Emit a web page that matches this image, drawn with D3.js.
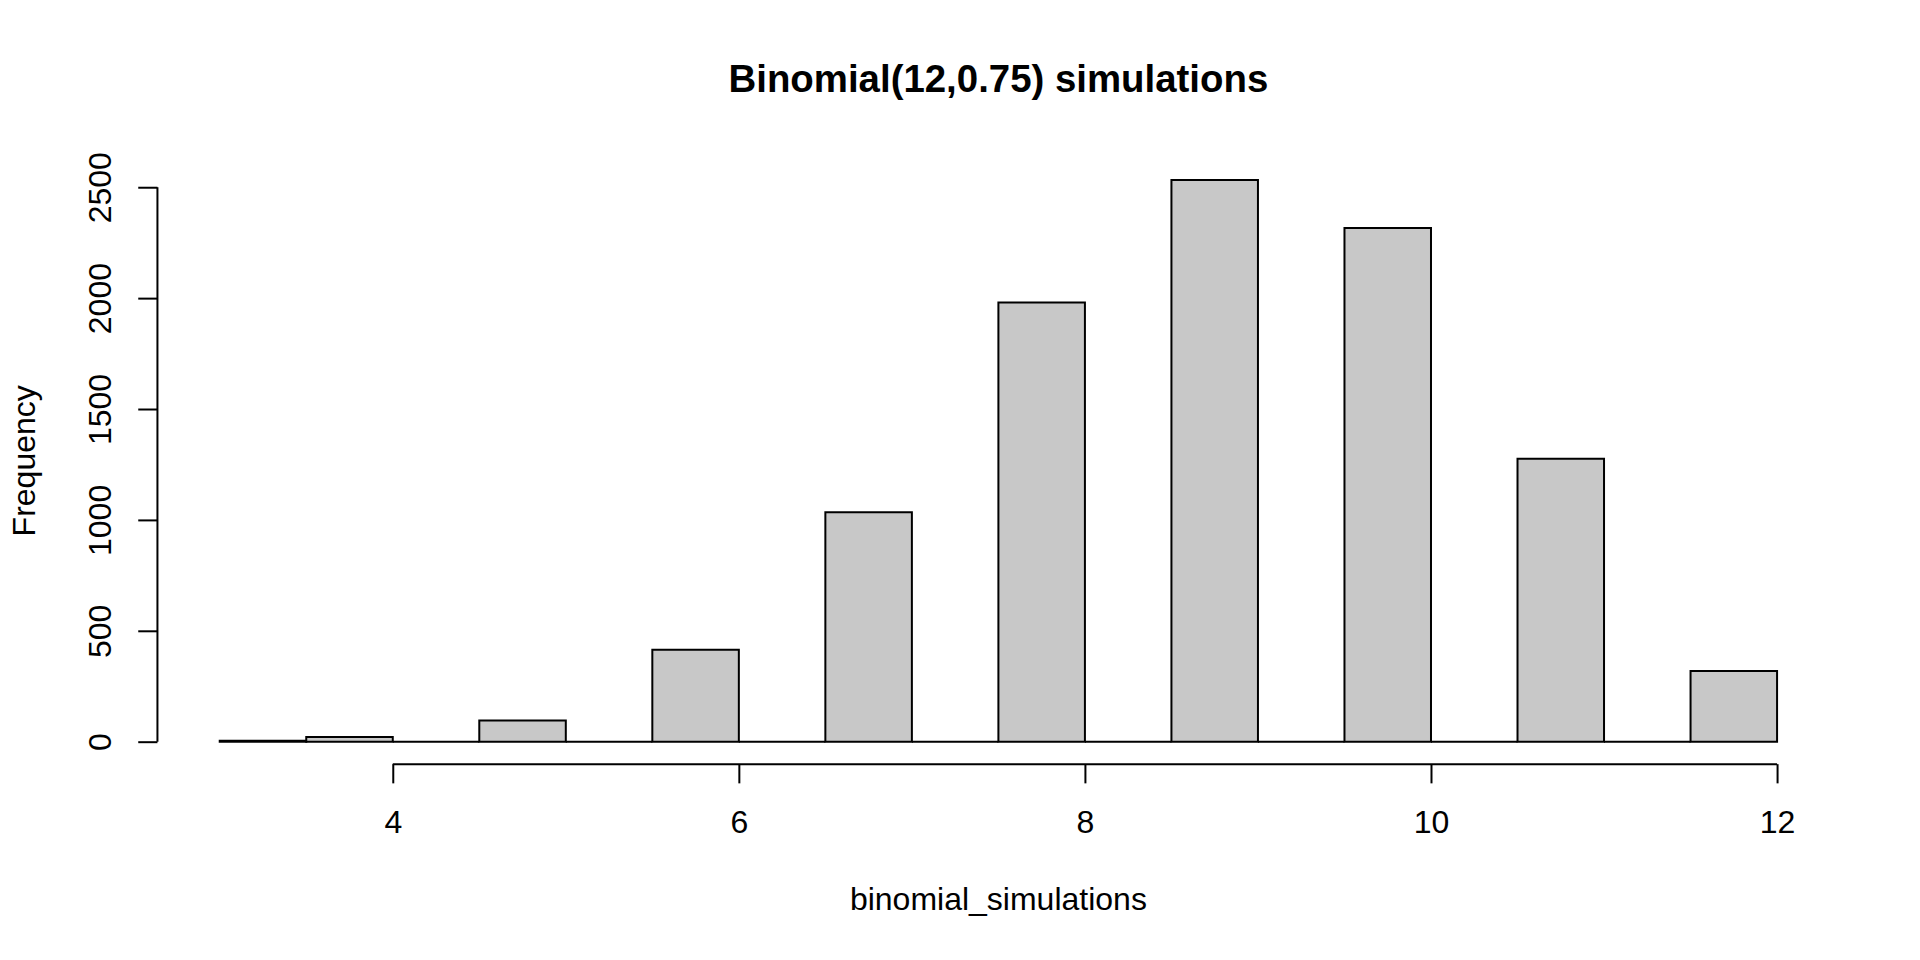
<!DOCTYPE html>
<html>
<head>
<meta charset="utf-8">
<script src="https://cdn.jsdelivr.net/npm/d3@7"></script>
<style>
  body { margin: 0; background: #fff; }
  text { font-family: "Liberation Sans", Arial, Helvetica, sans-serif; fill: #000; }
</style>
</head>
<body>
<script>
// histogram data
var binEdges = [3, 3.5, 4, 4.5, 5, 5.5, 6, 6.5, 7, 7.5, 8, 8.5, 9, 9.5, 10, 10.5, 11, 11.5, 12];
var counts   = [4, 21, 0, 95, 0, 415, 0, 1034, 0, 1980, 0, 2533, 0, 2316, 0, 1276, 0, 319];
var xTicks   = [4, 6, 8, 10, 12];
var yTicks   = [0, 500, 1000, 1500, 2000, 2500];

var titleText = "Binomial(12,0.75) simulations";
var xLabel = "binomial_simulations";
var yLabel = "Frequency";

// page and R-like margins (one "line" = 38.4px)
var W = 1920, H = 960;
var lineH = 38.4;
var margin = {top: 4.1 * lineH, right: 2.1 * lineH, bottom: 5.1 * lineH, left: 4.1 * lineH};
var plotL = margin.left, plotR = W - margin.right;
var plotT = margin.top, plotB = H - margin.bottom;

var xMin = binEdges[0], xMax = binEdges[binEdges.length - 1];
var yMax = d3.max(counts);
var xPad = (xMax - xMin) * 0.04, yPad = yMax * 0.04;

var x = d3.scaleLinear().domain([xMin - xPad, xMax + xPad]).range([plotL, plotR]);
var y = d3.scaleLinear().domain([-yPad, yMax + yPad]).range([plotB, plotT]);

var svg = d3.select("body").append("svg")
    .attr("width", W)
    .attr("height", H);

// bars (paths so that empty bins still show their outline)
var bars = counts.map(function(c, i){
    return {x0: binEdges[i], x1: binEdges[i + 1], count: c};
});

svg.append("g").selectAll("path")
    .data(bars)
    .enter().append("path")
    .attr("d", function(d){
        return "M" + x(d.x0) + "," + y(0) +
               " H" + x(d.x1) +
               " V" + y(d.count) +
               " H" + x(d.x0) + " Z";
    })
    .attr("fill", "#c8c8c8")
    .attr("stroke", "#000")
    .attr("stroke-width", 2);

// x axis
var tickLen = 0.5 * lineH;
var gx = svg.append("g")
    .attr("transform", "translate(0," + plotB + ")")
    .call(d3.axisBottom(x).tickValues(xTicks).tickSize(tickLen).tickFormat(d3.format("d")));
gx.select(".domain").remove();
gx.append("line")
    .attr("x1", x(xTicks[0])).attr("x2", x(xTicks[xTicks.length - 1]))
    .attr("y1", 0).attr("y2", 0)
    .attr("stroke", "#000").attr("stroke-width", 2);
gx.selectAll(".tick line").attr("stroke", "#000").attr("stroke-width", 2);
gx.selectAll(".tick text")
    .attr("y", 1.8 * lineH)
    .attr("dy", null)
    .style("font-size", "32px")
    .style("font-family", null)
    .attr("fill", "#000");

// y axis
var gy = svg.append("g")
    .attr("transform", "translate(" + plotL + ",0)")
    .call(d3.axisLeft(y).tickValues(yTicks).tickSize(tickLen).tickFormat(d3.format("d")));
gy.select(".domain").remove();
gy.append("line")
    .attr("x1", 0).attr("x2", 0)
    .attr("y1", y(yTicks[0])).attr("y2", y(yTicks[yTicks.length - 1]))
    .attr("stroke", "#000").attr("stroke-width", 2);
gy.selectAll(".tick line").attr("stroke", "#000").attr("stroke-width", 2);
gy.selectAll(".tick text")
    .attr("x", 0)
    .attr("dy", null)
    .attr("text-anchor", "middle")
    .attr("transform", "translate(" + (-1.2 * lineH) + ",0) rotate(-90)")
    .style("font-size", "32px")
    .style("font-family", null)
    .attr("fill", "#000");

// title and axis labels
var cx = (plotL + plotR) / 2;
svg.append("text")
    .attr("x", cx)
    .attr("y", 92)
    .attr("text-anchor", "middle")
    .style("font-size", "38.4px")
    .style("font-weight", "bold")
    .text(titleText);

svg.append("text")
    .attr("x", cx)
    .attr("y", plotB + 3.8 * lineH)
    .attr("text-anchor", "middle")
    .style("font-size", "32px")
    .text(xLabel);

var cy = (plotT + plotB) / 2;
svg.append("text")
    .attr("transform", "translate(" + (plotL - 3.2 * lineH) + "," + cy + ") rotate(-90)")
    .attr("text-anchor", "middle")
    .style("font-size", "32px")
    .text(yLabel);
</script>
</body>
</html>
